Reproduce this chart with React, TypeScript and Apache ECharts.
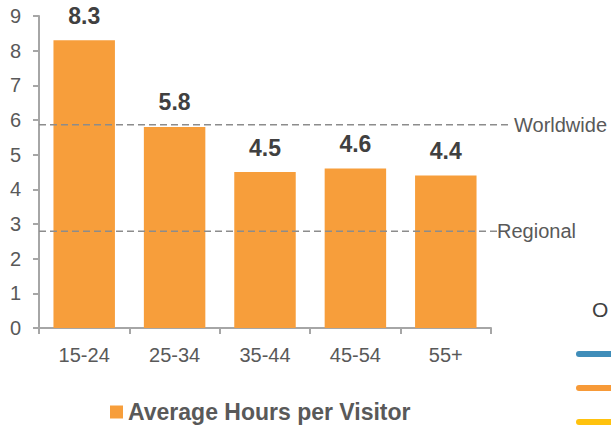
import React, { useEffect, useRef } from "react";
import * as echarts from "echarts";

const categories = ["15-24", "25-34", "35-44", "45-54", "55+"];
const hours = [8.3, 5.8, 4.5, 4.6, 4.4];
const refNames = ["Worldwide", "Regional"];
const refValues = [5.86, 2.79];
const refLineEnds = [510, 498];
const refLabelStarts = [514, 497];
const seriesName = "Average Hours per Visitor";
const sideLegendTitle = "O";
const sideLegendColors = ["#3F8DB9", "#F79A38", "#FFC20E"];

const FONT = "'Liberation Sans', Arial, sans-serif";

export default function App() {
  const ref = useRef<HTMLDivElement>(null);
  useEffect(() => {
    document.body.style.margin = "0";
    const chart = echarts.init(ref.current!, null, { renderer: "svg" });
    const gridLeft = 39;
    chart.setOption({
      animation: false,
      textStyle: { fontFamily: FONT },
      grid: { left: gridLeft, right: 120, top: 16, bottom: 97, containLabel: false },
      legend: {
        data: [seriesName],
        left: 105,
        top: 394,
        icon: "rect",
        itemWidth: 13,
        itemHeight: 13,
        itemGap: 5,
        textStyle: { fontFamily: FONT, fontSize: 23, fontWeight: "bold", color: "#595959", lineHeight: 26 },
      },
      xAxis: {
        type: "category",
        data: categories,
        axisLine: { lineStyle: { color: "#A6A6A6", width: 2 } },
        axisTick: { show: true, length: 6, alignWithLabel: false, lineStyle: { color: "#A6A6A6", width: 2 } },
        axisLabel: { color: "#595959", fontSize: 20, margin: 17, fontFamily: FONT },
      },
      yAxis: {
        type: "value",
        min: 0,
        max: 9,
        interval: 1,
        splitLine: { show: false },
        axisLine: { show: true, lineStyle: { color: "#A6A6A6", width: 2 } },
        axisTick: { show: true, length: 6, lineStyle: { color: "#A6A6A6", width: 2 } },
        axisLabel: { color: "#595959", fontSize: 20, margin: 18, fontFamily: FONT },
      },
      series: [
        {
          name: seriesName,
          type: "bar",
          data: hours,
          barWidth: "68%",
          itemStyle: { color: "#F79E3B" },
          label: {
            show: true,
            position: "top",
            distance: 13,
            fontSize: 23,
            fontWeight: "bold",
            color: "#404040",
            fontFamily: FONT,
            formatter: (p: any) => Number(p.value).toFixed(1),
          },
        },
      ],
    });

    const graphics: any[] = [];
    refValues.forEach((v, i) => {
      const y = chart.convertToPixel({ yAxisIndex: 0 }, v) as number;
      graphics.push({
        type: "line",
        shape: { x1: gridLeft, y1: y, x2: refLineEnds[i], y2: y },
        style: { stroke: "#8C8C8C", lineWidth: 1.5, lineDash: [7, 4] },
        z: 10,
      });
      graphics.push({
        type: "text",
        x: refLabelStarts[i],
        y: y,
        style: {
          text: refNames[i],
          fontSize: 20,
          fontFamily: FONT,
          fill: "#595959",
          verticalAlign: "middle",
          align: "left",
        },
        z: 9,
      });
    });
    graphics.push({
      type: "text",
      x: 592,
      y: 309,
      style: { text: sideLegendTitle, fontSize: 21, fontFamily: FONT, fill: "#404040", verticalAlign: "middle" },
    });
    sideLegendColors.forEach((c, i) => {
      const y = 354 + i * 34;
      graphics.push({
        type: "line",
        shape: { x1: 579, y1: y, x2: 620, y2: y },
        style: { stroke: c, lineWidth: 6, lineCap: "round" },
      });
    });
    chart.setOption({ graphic: graphics });

    return () => chart.dispose();
  }, []);
  return <div ref={ref} style={{ width: 611, height: 425 }} />;
}
